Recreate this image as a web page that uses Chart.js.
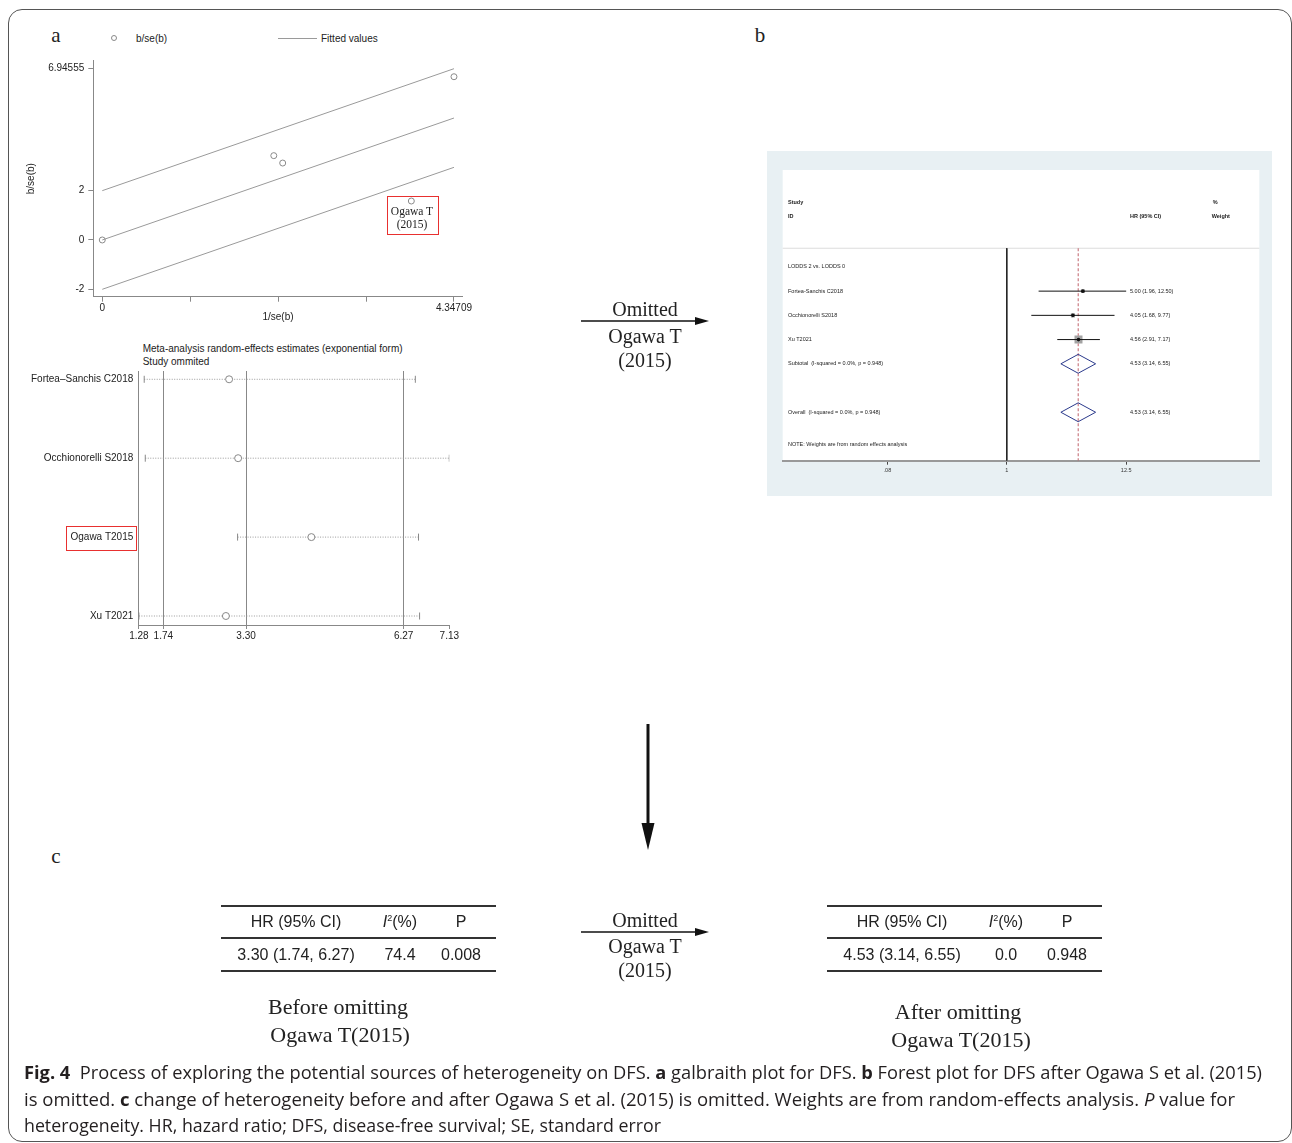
<!DOCTYPE html>
<html>
<head>
<meta charset="utf-8">
<script src="https://cdn.jsdelivr.net/npm/chart.js@4.4.1/dist/chart.umd.min.js"></script>
<style>
  body { margin: 0; background: #fff; }
  #page { position: relative; width: 1292px; height: 1143px; overflow: hidden; font-family: "Liberation Sans", Arial, sans-serif; color: #222; }
  .abs { position: absolute; white-space: nowrap; }
  .c { transform: translate(-50%, -50%); }
  .l { transform: translate(0, -50%); }
  .serif { font-family: "Liberation Serif", "Times New Roman", serif; }
  canvas { position: absolute; }
  .frame { position: absolute; left: 8px; top: 9px; width: 1282px; height: 1131px; border: 1px solid #555; border-radius: 14px; }
  .redbox { position: absolute; border: 1.5px solid #e8302f; box-sizing: border-box; }
  .rule { position: absolute; height: 1.6px; background: #333; }
  .cell { position: absolute; font-size: 16px; transform: translate(-50%, -50%); white-space: nowrap; }
  .cap { position: absolute; left: 24px; font-family: "Open Sans", "Noto Sans", sans-serif; font-size: 18px; color: #231f20; white-space: nowrap; transform-origin: left center; }
</style>
</head>
<body>
<div id="page">
  <div class="frame"></div>

  <!-- panel letters -->
  <div class="abs c serif" style="left:56px; top:35px; font-size:21px;">a</div>
  <div class="abs c serif" style="left:760px; top:35px; font-size:21px;">b</div>
  <div class="abs c serif" style="left:56px; top:856px; font-size:21px;">c</div>

  <!-- galbraith legend -->
  <div class="abs" style="left:111px; top:35px; width:6px; height:6px; border:1px solid #8a8a8a; border-radius:50%; box-sizing:border-box;"></div>
  <div class="abs l" style="left:136px; top:38px; font-size:10px;">b/se(b)</div>
  <div class="abs" style="left:278px; top:38px; width:39px; height:1px; background:#9a9a9a;"></div>
  <div class="abs l" style="left:321px; top:38px; font-size:10px;">Fitted values</div>

  <canvas id="galCanvas" width="480" height="290" style="left:0; top:50px;"></canvas>
  <div class="redbox" style="left:387px; top:196px; width:52px; height:39px;"></div>
  <div class="abs c serif" style="left:412px; top:211px; font-size:11.5px;">Ogawa T</div>
  <div class="abs c serif" style="left:412px; top:223.5px; font-size:11.5px;">(2015)</div>

  <!-- influence plot -->
  <div class="abs l" style="left:142.7px; top:348px; font-size:10px;">Meta-analysis random-effects estimates (exponential form)</div>
  <div class="abs l" style="left:142.7px; top:361px; font-size:10px;">Study ommited</div>
  <canvas id="inflCanvas" width="480" height="310" style="left:0; top:340px;"></canvas>
  <div class="redbox" style="left:66px; top:526px; width:71px; height:25px;"></div>

  <!-- forest plot -->
  <canvas id="forestCanvas" width="505" height="345" style="left:767px; top:151px; background:#e8f0f3;"></canvas>

  <!-- arrows -->
  <svg class="abs" style="left:0; top:0;" width="1292" height="1143">
    <line x1="581" y1="321" x2="698" y2="321" stroke="#111" stroke-width="1.5"/>
    <polygon points="695,317 709,321 695,325" fill="#111"/>
    <line x1="648" y1="724" x2="648" y2="826" stroke="#111" stroke-width="3"/>
    <polygon points="641.5,823 654.5,823 648,850" fill="#111"/>
    <line x1="581" y1="932" x2="698" y2="932" stroke="#111" stroke-width="1.5"/>
    <polygon points="695,928 709,932 695,936" fill="#111"/>
  </svg>
  <div class="abs c serif" style="left:645px; top:309px; font-size:20px;">Omitted</div>
  <div class="abs c serif" style="left:645px; top:336px; font-size:20px;">Ogawa T</div>
  <div class="abs c serif" style="left:645px; top:360px; font-size:20px;">(2015)</div>
  <div class="abs c serif" style="left:645px; top:920px; font-size:20px;">Omitted</div>
  <div class="abs c serif" style="left:645px; top:946px; font-size:20px;">Ogawa T</div>
  <div class="abs c serif" style="left:645px; top:970px; font-size:20px;">(2015)</div>

  <div id="tables"></div>

  <div class="abs c serif" style="left:338px; top:1007px; font-size:22px;">Before omitting</div>
  <div class="abs c serif" style="left:340px; top:1035px; font-size:22px;">Ogawa T(2015)</div>
  <div class="abs c serif" style="left:958px; top:1012px; font-size:22px;">After omitting</div>
  <div class="abs c serif" style="left:961px; top:1040px; font-size:22px;">Ogawa T(2015)</div>

  <!-- caption -->
  <div class="cap" data-w="1238" style="top:1072px;"><b>Fig. 4</b>&nbsp; Process of exploring the potential sources of heterogeneity on DFS. <b>a</b> galbraith plot for DFS. <b>b</b> Forest plot for DFS after Ogawa S et al. (2015)</div>
  <div class="cap" data-w="1211" style="top:1099px;">is omitted. <b>c</b> change of heterogeneity before and after Ogawa S et al. (2015) is omitted. Weights are from random-effects analysis. <i>P</i> value for</div>
  <div class="cap" data-w="637" style="top:1125px;">heterogeneity. HR, hazard ratio; DFS, disease-free survival; SE, standard error</div>
</div>

<script>
// panel a: galbraith plot
const galInvSe = [0, 2.12, 2.23, 3.82, 4.34709];
const galZ = [0, 3.42, 3.12, 1.58, 6.62];
const galFitX = [0, 4.34709];
const galFitMid = [0, 4.94555];
const galFitUpper = [2, 6.94555];
const galFitLower = [-2, 2.94555];
const galXTicks = [0, 1.086773, 2.173545, 3.260318, 4.34709];
const galXTickLabels = ['0', '', '', '', '4.34709'];
const galYTicks = [-2, 0, 2, 6.94555];
const galYTickLabels = ['-2', '0', '2', '6.94555'];

// panel a: influence (one study omitted)
const inflStudies = ['Fortea\u2013Sanchis C2018', 'Occhionorelli S2018', 'Ogawa T2015', 'Xu T2021'];
const inflEst = [2.98, 3.15, 4.53, 2.92];
const inflLow = [1.38, 1.40, 3.14, 1.28];
const inflHigh = [6.49, 7.13, 6.55, 6.57];
const inflRefLines = [1.74, 3.30, 6.27];
const inflTicks = [1.28, 1.74, 3.30, 6.27, 7.13];

// panel b: forest plot
const forestGroup = 'LODDS 2 vs. LODDS 0';
const forestStudies = ['Fortea-Sanchis C2018', 'Occhionorelli S2018', 'Xu T2021'];
const forestHR = [5.00, 4.05, 4.56];
const forestLow = [1.96, 1.68, 2.91];
const forestHigh = [12.50, 9.77, 7.17];
const forestWeight = [15.8, 17.5, 66.7];
const pooledHR = 4.53, pooledLow = 3.14, pooledHigh = 6.55;
const subtotalLabel = 'Subtotal  (I-squared = 0.0%, p = 0.948)';
const overallLabel = 'Overall  (I-squared = 0.0%, p = 0.948)';
const forestTicks = [0.08, 1, 12.5];
const forestTickLabels = ['.08', '1', '12.5'];

// panel c: heterogeneity tables
const tableHeaders = ['HR (95% CI)', '<i>I</i><sup style="font-size:9px">2</sup>(%)', 'P'];
const beforeRow = ['3.30 (1.74, 6.27)', '74.4', '0.008'];
const afterRow = ['4.53 (3.14, 6.55)', '0.0', '0.948'];

Chart.defaults.font.family = '"Liberation Sans", Arial, sans-serif';
Chart.defaults.color = '#222';

const noLegend = { legend: { display: false }, tooltip: { enabled: false } };

function toPoints(xs, ys) {
    return xs.map((x, i) => ({ x: x, y: ys[i] }));
}

function fittedLine(ys) {
    return {
        data: toPoints(galFitX, ys),
        showLine: true,
        pointRadius: 0,
        borderColor: '#9a9a9a',
        borderWidth: 1
    };
}

new Chart(document.getElementById('galCanvas'), {
    type: 'scatter',
    data: {
        datasets: [{
            data: toPoints(galInvSe, galZ),
            pointStyle: 'circle',
            pointRadius: 3,
            borderColor: '#8a8a8a',
            backgroundColor: 'rgba(0,0,0,0)',
            borderWidth: 1
        },
        fittedLine(galFitUpper),
        fittedLine(galFitMid),
        fittedLine(galFitLower)]
    },
    options: {
        responsive: false,
        animation: false,
        layout: { padding: { top: 10.7, right: 17.3, left: 0, bottom: 0 } },
        plugins: noLegend,
        scales: {
            x: {
                type: 'linear',
                min: -0.111,
                max: 4.455,
                afterFit: function(s) { s.height = 43.3; },
                afterBuildTicks: function(s) { s.ticks = galXTicks.map(v => ({ value: v })); },
                ticks: {
                    autoSkip: false,
                    maxRotation: 0,
                    padding: 1,
                    font: { size: 10 },
                    callback: (v, i) => galXTickLabels[i]
                },
                grid: { drawOnChartArea: false, tickLength: 5, color: '#888' },
                border: { color: '#888' },
                title: { display: true, text: '1/se(b)', font: { size: 10 }, padding: { top: 0, bottom: 17 } }
            },
            y: {
                type: 'linear',
                min: -2.30,
                max: 7.27,
                afterFit: function(s) { s.width = 93.3; },
                afterBuildTicks: function(s) { s.ticks = galYTicks.map(v => ({ value: v })); },
                ticks: {
                    autoSkip: false,
                    padding: 4,
                    font: { size: 10 },
                    callback: (v, i) => galYTickLabels[i]
                },
                grid: { drawOnChartArea: false, tickLength: 5, color: '#888' },
                border: { color: '#888' },
                title: { display: true, text: 'b/se(b)', font: { size: 10 }, padding: { top: 25.7, bottom: 0 } }
            }
        }
    }
});

const inflDatasets = [];
inflStudies.forEach((name, i) => {
    inflDatasets.push({
        data: [{ x: inflLow[i], y: i }, { x: inflHigh[i], y: i }],
        showLine: true,
        borderColor: '#9a9a9a',
        borderWidth: 1,
        borderDash: [1, 1.5],
        pointStyle: 'line',
        rotation: 90,
        pointRadius: 3.5,
        pointBorderColor: '#888',
        pointBorderWidth: 1
    });
});
inflDatasets.unshift({
    data: inflEst.map((v, i) => ({ x: v, y: i })),
    pointStyle: 'circle',
    pointRadius: 3.5,
    borderColor: '#888',
    backgroundColor: '#fff',
    borderWidth: 1
});

new Chart(document.getElementById('inflCanvas'), {
    type: 'scatter',
    data: { datasets: inflDatasets },
    options: {
        responsive: false,
        animation: false,
        layout: { padding: { top: 31, right: 30.7, left: 0, bottom: 0 } },
        plugins: noLegend,
        scales: {
            x: {
                type: 'linear',
                min: 1.28,
                max: 7.13,
                afterFit: function(s) { s.height = 25; },
                afterBuildTicks: function(s) { s.ticks = inflTicks.map(v => ({ value: v })); },
                ticks: {
                    autoSkip: false,
                    maxRotation: 0,
                    padding: 1,
                    font: { size: 10 },
                    callback: v => v.toFixed(2)
                },
                grid: {
                    drawOnChartArea: true,
                    tickLength: 4,
                    tickColor: '#888',
                    color: ctx => (ctx.tick && inflRefLines.includes(ctx.tick.value)) ? '#888' : 'rgba(0,0,0,0)'
                },
                border: { color: '#888' }
            },
            y: {
                type: 'linear',
                reverse: true,
                min: -0.105,
                max: 3.114,
                afterFit: function(s) { s.width = 138.9; },
                afterBuildTicks: function(s) { s.ticks = inflStudies.map((n, i) => ({ value: i })); },
                ticks: {
                    autoSkip: false,
                    padding: 5.6,
                    font: { size: 10 },
                    callback: v => inflStudies[v]
                },
                grid: { display: false, drawTicks: false },
                border: { color: '#888' }
            }
        }
    }
});

// forest plot rows (y positions in row units)
const SEP_ROW = 3.23, GROUP_ROW = 4, FIRST_STUDY_ROW = 5, SUBTOTAL_ROW = 8, OVERALL_ROW = 10, NOTE_ROW = 11.35, BOTTOM_ROW = 12;

const forestDecor = {
    id: 'forestDecor',
    beforeDraw(chart) {
        const { ctx, chartArea: a } = chart;
        ctx.save();
        ctx.fillStyle = '#fff';
        ctx.fillRect(a.left, a.top, a.right - a.left, a.bottom - a.top);
        ctx.restore();
    },
    beforeDatasetsDraw(chart) {
        const { ctx, chartArea: a, scales: { y } } = chart;
        const py = y.getPixelForValue(SEP_ROW);
        ctx.save();
        ctx.strokeStyle = '#dcdcdc';
        ctx.lineWidth = 1.2;
        ctx.beginPath();
        ctx.moveTo(a.left, py);
        ctx.lineTo(a.right, py);
        ctx.stroke();
        ctx.restore();
    },
    afterDatasetsDraw(chart) {
        const { ctx, chartArea: a, scales: { y } } = chart;
        const left = a.left + 5.3;
        const est = a.left + 347.3;
        const put = (t, x, row) => ctx.fillText(t, x, y.getPixelForValue(row));
        ctx.save();
        ctx.fillStyle = '#222';
        ctx.textBaseline = 'middle';
        ctx.font = 'bold 5.5px "Liberation Sans", Arial, sans-serif';
        put('Study', left, 1.36);
        put('ID', left, 1.9);
        put('HR (95% CI)', est, 1.9);
        put('%', a.left + 430, 1.36);
        put('Weight', a.left + 429, 1.9);
        ctx.font = '5.5px "Liberation Sans", Arial, sans-serif';
        put(forestGroup, left, GROUP_ROW);
        forestStudies.forEach((s, i) => {
            put(s, left, FIRST_STUDY_ROW + i);
            put(forestHR[i].toFixed(2) + ' (' + forestLow[i].toFixed(2) + ', ' + forestHigh[i].toFixed(2) + ')', est, FIRST_STUDY_ROW + i);
        });
        const pooledText = pooledHR.toFixed(2) + ' (' + pooledLow.toFixed(2) + ', ' + pooledHigh.toFixed(2) + ')';
        put(subtotalLabel, left, SUBTOTAL_ROW);
        put(pooledText, est, SUBTOTAL_ROW);
        put(overallLabel, left, OVERALL_ROW);
        put(pooledText, est, OVERALL_ROW);
        put('NOTE: Weights are from random effects analysis', left, NOTE_ROW);
        ctx.restore();
    }
};

function diamond(row) {
    return {
        data: [
            { x: pooledLow, y: row },
            { x: pooledHR, y: row - 0.39 },
            { x: pooledHigh, y: row },
            { x: pooledHR, y: row + 0.39 },
            { x: pooledLow, y: row }
        ],
        showLine: true,
        pointRadius: 0,
        borderColor: '#2b3a8c',
        borderWidth: 1,
        order: 2
    };
}

const studyRows = forestStudies.map((s, i) => FIRST_STUDY_ROW + i);
const forestDatasets = [
    {
        data: [{ x: 1, y: SEP_ROW }, { x: 1, y: BOTTOM_ROW }],
        showLine: true, pointRadius: 0, borderColor: '#222', borderWidth: 1, order: 6
    },
    {
        data: [{ x: pooledHR, y: SEP_ROW }, { x: pooledHR, y: BOTTOM_ROW }],
        showLine: true, pointRadius: 0, borderColor: '#c0616b', borderWidth: 1, borderDash: [3, 2], order: 5
    },
    {
        data: forestHR.map((v, i) => ({ x: v, y: studyRows[i] })),
        pointStyle: 'rect',
        pointRadius: forestWeight.map(w => Math.sqrt(w) * 0.69),
        backgroundColor: '#a3a3a3',
        borderWidth: 0,
        order: 4
    },
    {
        data: forestHR.map((v, i) => ({ x: v, y: studyRows[i] })),
        pointStyle: 'circle',
        pointRadius: 1.8,
        backgroundColor: '#111',
        borderWidth: 0,
        order: 0
    },
    diamond(SUBTOTAL_ROW),
    diamond(OVERALL_ROW)
];
forestStudies.forEach((s, i) => {
    forestDatasets.push({
        data: [{ x: forestLow[i], y: studyRows[i] }, { x: forestHigh[i], y: studyRows[i] }],
        showLine: true, pointRadius: 0, borderColor: '#111', borderWidth: 1, order: 3
    });
});

new Chart(document.getElementById('forestCanvas'), {
    type: 'scatter',
    data: { datasets: forestDatasets },
    plugins: [forestDecor],
    options: {
        responsive: false,
        animation: false,
        layout: { padding: { top: 19, right: 12.7, left: 15.7, bottom: 0 } },
        plugins: noLegend,
        scales: {
            x: {
                type: 'logarithmic',
                min: 0.00873,
                max: 209,
                afterFit: function(s) { s.height = 35.3; },
                afterBuildTicks: function(s) { s.ticks = forestTicks.map(v => ({ value: v })); },
                ticks: {
                    autoSkip: false,
                    maxRotation: 0,
                    padding: 2,
                    font: { size: 5.5 },
                    color: '#333',
                    callback: (v, i) => forestTickLabels[i]
                },
                grid: { drawOnChartArea: false, tickLength: 4, color: '#444' },
                border: { color: '#999', width: 2 }
            },
            y: {
                type: 'linear',
                reverse: true,
                min: 0,
                max: BOTTOM_ROW,
                display: false
            }
        }
    }
});

function buildTable(left, row) {
    const host = document.getElementById('tables');
    const colCenters = [75, 179, 240];
    let html = '';
    [906, 938, 971].forEach(y => {
        html += '<div class="rule" style="left:' + left + 'px; top:' + (y - 0.8) + 'px; width:275px;"></div>';
    });
    tableHeaders.forEach((h, i) => {
        html += '<div class="cell" style="left:' + (left + colCenters[i]) + 'px; top:922px;">' + h + '</div>';
    });
    row.forEach((v, i) => {
        html += '<div class="cell" style="left:' + (left + colCenters[i]) + 'px; top:954.5px;">' + v + '</div>';
    });
    host.insertAdjacentHTML('beforeend', html);
}
buildTable(221, beforeRow);
buildTable(827, afterRow);

document.fonts.ready.then(function() {
    document.querySelectorAll('.cap').forEach(function(el) {
        el.style.transform = 'translateY(-50%)';
        const w = el.getBoundingClientRect().width;
        const target = parseFloat(el.dataset.w);
        el.style.transform = 'translateY(-50%) scaleX(' + (target / w) + ')';
    });
});
</script>
</body>
</html>
